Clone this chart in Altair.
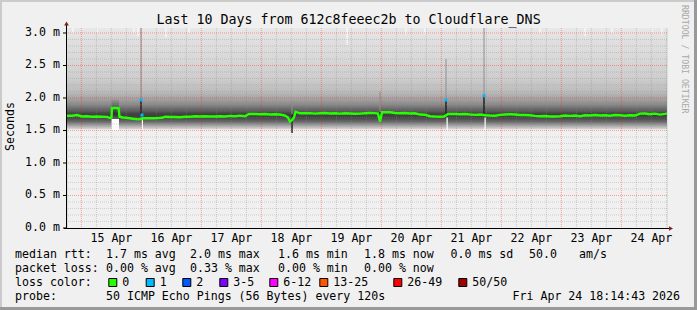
import altair as alt
import pandas as pd

# ---------------- data ----------------
START = pd.Timestamp("2026-04-14 18:14:43")
SPAN_H = 240.0          # 10 days
YMAX = 3.0769           # top of the value axis (ms)

# median rtt (ms) at hours after graph start
median_hours = [0, 2, 4, 6, 8, 10, 12, 14, 16, 17.2, 17.8, 18.0, 20.6, 21.0, 22.4, 24.4, 26.4, 28.4, 29.4,
                30.4, 32.4, 34.4, 36.4, 38.4, 39.2, 41.2, 43.2, 45.2, 47.2, 49.2, 51.2, 53.2, 55.2, 57.2,
                59.2, 61.2, 63.2, 65.2, 67.2, 69.2, 71.2, 72.8, 75.2, 77.2, 79.2, 81.2, 83.2, 85.2, 87.2,
                88.4, 89.2, 90.0, 90.8, 91.4, 93.2, 95.2, 97.2, 99.2, 101.2, 103.2, 105.2, 107.2, 109.2,
                111.2, 113.2, 115.2, 117.2, 119.2, 121.2, 123.2, 124.4, 125.2, 126.0, 129.2, 131.2, 133.2,
                135.2, 137.2, 139.2, 141.2, 143.2, 145.2, 147.2, 149.2, 150.8, 152.4, 155.2, 157.2, 159.2,
                161.2, 163.2, 165.2, 167.6, 169.2, 171.2, 173.2, 175.2, 177.2, 179.2, 181.2, 183.2, 185.2,
                187.2, 189.2, 191.2, 193.2, 195.2, 197.2, 199.2, 201.2, 203.2, 205.2, 207.2, 209.2, 211.2,
                213.2, 215.2, 217.2, 219.2, 221.2, 223.2, 225.2, 227.2, 229.2, 231.2, 233.2, 235.2, 237.2,
                239.2, 240]
median_ms = [1.728, 1.728, 1.738, 1.715, 1.720, 1.712, 1.715, 1.712, 1.710, 1.692, 1.700, 1.846, 1.846, 1.712,
             1.700, 1.692, 1.680, 1.672, 1.677,
             1.688, 1.688, 1.688, 1.690, 1.700, 1.712, 1.708, 1.708, 1.705, 1.712, 1.712, 1.720, 1.715, 1.720,
             1.715, 1.715, 1.720, 1.715, 1.725, 1.720, 1.728, 1.720, 1.754, 1.754, 1.750, 1.754, 1.746, 1.750,
             1.746, 1.730, 1.700, 1.635, 1.660, 1.700, 1.789, 1.765, 1.765, 1.768, 1.760, 1.765, 1.770, 1.762,
             1.765, 1.760, 1.765, 1.762, 1.757, 1.760, 1.765, 1.769, 1.768, 1.760, 1.635, 1.780, 1.780, 1.770,
             1.765, 1.770, 1.762, 1.765, 1.745, 1.743, 1.720, 1.715, 1.712, 1.715, 1.754, 1.754, 1.750, 1.754,
             1.746, 1.740, 1.746, 1.735, 1.730, 1.728, 1.740, 1.746, 1.750, 1.746, 1.738, 1.738, 1.735,
             1.725, 1.720, 1.723, 1.715, 1.715, 1.720, 1.730, 1.725, 1.730, 1.720, 1.735, 1.730, 1.738,
             1.730, 1.735, 1.728, 1.738, 1.735, 1.728, 1.735, 1.730, 1.760, 1.762, 1.750, 1.760, 1.745,
             1.755, 1.760]

# medians with one lost ping (blue)
loss1_hours = [29.6, 30.0, 151.6, 166.8]
loss1_ms = [1.970, 1.738, 1.969, 2.035]

# smoke envelope (ms): lowest and highest ping
smoke_hours = [0, 240]
smoke_low_ms = [1.52, 1.52]
smoke_high_ms = [YMAX, YMAX]

# periods where the fastest pings shifted (no smoke below)
gap_start_h = [17.8, 29.9, 151.8, 167.0]
gap_end_h = [20.8, 30.4, 152.3, 167.5]
gap_low_ms = [1.50, 1.50, 1.50, 1.50]
gap_high_ms = [1.68, 1.70, 1.70, 1.70]

# dense smoke during the step (ms)
step_start_h = [17.8]
step_end_h = [20.8]
step_low_ms = [1.68]
step_high_ms = [1.98]

# concentrated ping spread at single steps
spike_hours = [29.6, 90.0, 125.2, 151.6, 166.8]
spike_low_ms = [1.738, 1.46, 1.635, 1.75, 1.738]
spike_mid_ms = [1.970, 1.75, 1.78, 1.969, 2.035]
spike_high_ms = [YMAX, 1.95, 2.1, 2.6, YMAX]

# steps whose slowest ping stayed below the top of the graph
lowmax_hours = [2.4, 12.0, 26.8, 28.4, 39.6, 48.8, 112.0, 135.6, 143.2, 189.2, 207.2, 218.0, 234.0, 238.0]
lowmax_ms = [3.00, 3.00, 3.00, 2.95, 2.93, 3.00, 2.82, 2.98, 2.98, 3.00, 2.95, 3.00, 3.00, 2.98]

day_labels = ["15 Apr", "16 Apr", "17 Apr", "18 Apr", "19 Apr", "20 Apr", "21 Apr", "22 Apr", "23 Apr", "24 Apr"]
day_dates = ["2026-04-15", "2026-04-16", "2026-04-17", "2026-04-18", "2026-04-19",
             "2026-04-20", "2026-04-21", "2026-04-22", "2026-04-23", "2026-04-24"]
y_tick_ms = [0.0, 0.5, 1.0, 1.5, 2.0, 2.5, 3.0]

title_text = "Last 10 Days from 612c8feeec2b to Cloudflare_DNS"
legend_rows = [
    [("median rtt:", 15), ("1.7 ms avg", 106), ("2.0 ms max", 190), ("1.6 ms min", 278),
     ("1.8 ms now", 364), ("0.0 ms sd", 450.5), ("50.0", 529), ("am/s", 579)],
    [("packet loss:", 15), ("0.00 % avg", 106), ("0.33 % max", 190), ("0.00 % min", 278),
     ("0.00 % now", 364)],
    [("loss color:", 15)],
    [("probe:", 15), ("50 ICMP Echo Pings (56 Bytes) every 120s", 106), ("Fri Apr 24 18:14:43 2026", 512.5)],
]
loss_labels = ["0", "1", "2", "3-5", "6-12", "13-25", "26-49", "50/50"]
loss_colors = ["#26ff00", "#00b8ff", "#0059ff", "#7e00ff", "#ff00ff", "#ff5500", "#ff0000", "#a10000"]
loss_box_x = [108.3, 145.7, 182.3, 219.3, 269.3, 319.3, 393.3, 458.3]

# ---------------- layout ----------------
L, T = 67, 28           # plot origin in the image
W, H = 600, 200
MONO = "DejaVu Sans Mono"
FS = 11.6


def hours_of(date):
    return (pd.Timestamp(date) - START) / pd.Timedelta(hours=1)


xs = alt.Scale(domain=[0, SPAN_H], nice=False, zero=False)
ys = alt.Scale(domain=[0, YMAX], nice=False, zero=False)


def X(f):
    return alt.X(f, type="quantitative", scale=xs, axis=None)


def Y(f):
    return alt.Y(f, type="quantitative", scale=ys, axis=None)


def P(v):
    return alt.value(v)


layers = []

# smoke
smoke_df = pd.DataFrame({"h": smoke_hours, "lo": smoke_low_ms, "hi": smoke_high_ms})
grad = alt.Gradient(
    gradient="linear", x1=0, x2=0, y1=0, y2=1,
    stops=[
        alt.GradientStop(color="#e8e8e8", offset=0.0),
        alt.GradientStop(color="#e0e0e0", offset=0.114),
        alt.GradientStop(color="#d8d8d8", offset=0.306),
        alt.GradientStop(color="#cdcdcd", offset=0.499),
        alt.GradientStop(color="#bcbcbc", offset=0.627),
        alt.GradientStop(color="#a6a6a6", offset=0.692),
        alt.GradientStop(color="#8a8a8a", offset=0.756),
        alt.GradientStop(color="#646464", offset=0.807),
        alt.GradientStop(color="#404040", offset=0.852),
        alt.GradientStop(color="#444444", offset=0.884),
        alt.GradientStop(color="#666666", offset=0.923),
        alt.GradientStop(color="#a0a0a0", offset=0.961),
        alt.GradientStop(color="#d8d8d8", offset=1.0),
    ],
)
layers.append(alt.Chart(smoke_df).mark_area(color=grad).encode(x=X("h"), y=Y("hi"), y2="lo"))

gap_df = pd.DataFrame({"h0": gap_start_h, "h1": gap_end_h, "lo": gap_low_ms, "hi": gap_high_ms})
layers.append(alt.Chart(gap_df).mark_rect(color="white").encode(x=X("h0"), x2="h1", y=Y("lo"), y2="hi"))

step_df = pd.DataFrame({"h0": step_start_h, "h1": step_end_h, "lo": step_low_ms, "hi": step_high_ms})
step_grad = alt.Gradient(
    gradient="linear", x1=0, x2=0, y1=0, y2=1,
    stops=[alt.GradientStop(color="#9a9a9a", offset=0.0),
           alt.GradientStop(color="#505050", offset=0.45),
           alt.GradientStop(color="#303030", offset=0.75),
           alt.GradientStop(color="#5a5a5a", offset=1.0)])
layers.append(alt.Chart(step_df).mark_rect(color=step_grad).encode(x=X("h0"), x2="h1", y=Y("lo"), y2="hi"))

spike_df = pd.DataFrame({"h": spike_hours, "lo": spike_low_ms, "mid": spike_mid_ms, "hi": spike_high_ms})
layers.append(alt.Chart(spike_df).mark_rule(color="#8e8e8e", strokeWidth=1).encode(x=X("h"), y=Y("mid"), y2="hi"))
layers.append(alt.Chart(spike_df).mark_rule(color="#202020", strokeWidth=1.5).encode(x=X("h"), y=Y("lo"), y2="mid"))

lowmax_df = pd.DataFrame({"h": lowmax_hours, "v": lowmax_ms, "top": [YMAX] * len(lowmax_ms)})
layers.append(alt.Chart(lowmax_df).mark_rule(color="white", strokeWidth=1).encode(x=X("h"), y=Y("v"), y2="top"))

# grid
minor_y = [round(i * 0.1, 1) for i in range(1, 31) if i % 5 != 0]
major_y = [0.5, 1.0, 1.5, 2.0, 2.5, 3.0]
midnights = [hours_of(d) for d in day_dates]
minor_x = [m + k for m in [midnights[0] - 24] + midnights for k in (6, 12, 18) if 0 < m + k < SPAN_H]

layers.append(alt.Chart(pd.DataFrame({"v": minor_y})).mark_rule(
    color="#8c8c8c", opacity=0.32, strokeDash=[1, 1], strokeWidth=1).encode(y=Y("v")))
layers.append(alt.Chart(pd.DataFrame({"h": minor_x})).mark_rule(
    color="#8c8c8c", opacity=0.38, strokeDash=[1, 1], strokeWidth=1).encode(x=X("h")))
layers.append(alt.Chart(pd.DataFrame({"v": major_y})).mark_rule(
    color="#ff2020", opacity=0.4, strokeDash=[1, 1], strokeWidth=1).encode(y=Y("v")))
layers.append(alt.Chart(pd.DataFrame({"h": midnights})).mark_rule(
    color="#ff2020", opacity=0.4, strokeDash=[1, 1], strokeWidth=1).encode(x=X("h")))

# median line
med_df = pd.DataFrame({"h": median_hours, "v": median_ms})
layers.append(alt.Chart(med_df).mark_line(color="#26ff00", strokeWidth=2.4).encode(x=X("h"), y=Y("v")))
loss_df = pd.DataFrame({"h": loss1_hours, "v": loss1_ms})
layers.append(alt.Chart(loss_df).mark_square(color="#00b8ff", size=9, opacity=1).encode(x=X("h"), y=Y("v")))

# axes
layers.append(alt.Chart(pd.DataFrame({"a": [0]})).mark_rule(color="black", strokeWidth=1).encode(
    x=P(-0.5), y=P(-4), y2=P(H)))
layers.append(alt.Chart(pd.DataFrame({"a": [0]})).mark_rule(color="black", strokeWidth=1).encode(
    x=P(-3), x2=P(W + 2), y=P(H + 0.5)))
layers.append(alt.Chart(pd.DataFrame({"a": [0]})).mark_point(
    shape="triangle-up", filled=True, color="#802020", size=22, opacity=1).encode(x=P(-0.5), y=P(-4.5)))
layers.append(alt.Chart(pd.DataFrame({"a": [0]})).mark_point(
    shape="triangle-right", filled=True, color="#802020", size=22, opacity=1).encode(x=P(W + 4), y=P(H + 0.5)))

ytick_df = pd.DataFrame({"v": y_tick_ms, "lab": [f"{v:.1f} m" for v in y_tick_ms]})
layers.append(alt.Chart(ytick_df).mark_rule(color="black", strokeWidth=1).encode(
    x=P(-4), x2=P(-0.5), y=Y("v")))
layers.append(alt.Chart(ytick_df).mark_text(
    font=MONO, fontSize=FS, align="right", baseline="middle", color="black").encode(
    x=P(-7), y=Y("v"), text="lab:N"))

xlab_df = pd.DataFrame({"h": [m + 12 for m in midnights], "lab": day_labels})
layers.append(alt.Chart(xlab_df).mark_text(
    font=MONO, fontSize=FS, align="center", baseline="alphabetic", color="black").encode(
    x=X("h"), y=P(242 - T), text="lab:N"))

# texts
def text_layer(txt, x, y, **kw):
    props = dict(font=MONO, fontSize=FS, align="left", baseline="alphabetic", color="black")
    props.update(kw)
    return alt.Chart(pd.DataFrame({"t": [txt]})).mark_text(text=txt, **props).encode(
        x=P(x - L), y=P(y - T))


layers.append(text_layer(title_text, 348.5, 24, fontSize=13.3, align="center"))
layers.append(text_layer("Seconds", 11, 126.5, angle=270, align="center", baseline="middle"))
layers.append(text_layer("RRDTOOL / TOBI OETIKER", 683.5, 5, fontSize=8.2, angle=90,
                         baseline="middle", color="#a8a8a8"))

row_base = [258.3, 272.3, 286.3, 300.3]
for row, base in zip(legend_rows, row_base):
    for txt, x in row:
        layers.append(text_layer(txt, x, base))
for lab, col, bx in zip(loss_labels, loss_colors, loss_box_x):
    layers.append(alt.Chart(pd.DataFrame({"a": [0]})).mark_rect(
        color=col, stroke="black", strokeWidth=1).encode(
        x=P(bx - L + 0.5), x2=P(bx - L + 8.5), y=P(278.5 - T), y2=P(286.5 - T)))
    layers.append(text_layer(lab, bx + 14, row_base[2]))

# frame (3D border)
for (x0, x1, y0, y1, col) in [(0, 697, 0, 2, "#cbcbcb"), (0, 2, 0, 310, "#cbcbcb"),
                              (0, 697, 307, 310, "#999999"), (694, 697, 0, 310, "#999999")]:
    layers.append(alt.Chart(pd.DataFrame({"a": [0]})).mark_rect(color=col).encode(
        x=P(x0 - L), x2=P(x1 - L), y=P(y0 - T), y2=P(y1 - T)))

chart = alt.layer(*layers).resolve_scale(x="independent", y="independent").properties(
    width=W, height=H,
    padding={"left": L, "top": T, "right": 697 - L - W, "bottom": 310 - T - H},
    autosize=alt.AutoSizeParams(type="none"),
).configure_view(fill="white", stroke=None).configure(background="#f0f0f0")

chart.save("out.html", embed_options={"renderer": "svg", "actions": False})
